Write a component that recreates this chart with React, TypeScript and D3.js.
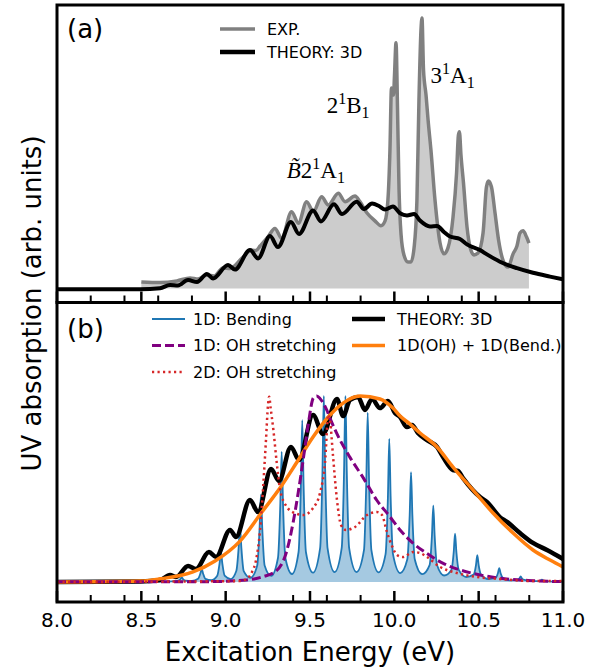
import React from "react";
import * as d3 from "d3";

type Pt = [number, number];

// ---- panel (a): experiment vs 3D theory (eV, normalised intensity)
const expSpectrum: Pt[] = [
  [8.5, 0.024], [8.611, 0.022], [8.711, 0.028], [8.789, 0.039], [8.836, 0.035],
  [8.889, 0.05], [8.931, 0.046], [8.984, 0.076], [9.026, 0.074], [9.097, 0.112],
  [9.154, 0.142], [9.18, 0.14], [9.204, 0.157], [9.25, 0.19], [9.292, 0.222],
  [9.332, 0.186], [9.391, 0.284], [9.431, 0.241], [9.48, 0.321], [9.52, 0.284],
  [9.569, 0.339], [9.608, 0.309], [9.668, 0.352], [9.708, 0.321], [9.767, 0.342],
  [9.796, 0.321], [9.838, 0.279], [9.885, 0.25], [9.921, 0.232], [9.945, 0.25],
  [9.962, 0.327], [9.974, 0.512], [9.983, 0.741], [9.995, 0.715], [10.001, 0.789],
  [10.01, 0.908], [10.019, 0.66], [10.028, 0.364], [10.04, 0.198], [10.057, 0.124],
  [10.081, 0.098], [10.099, 0.098], [10.117, 0.15], [10.134, 0.327], [10.146, 0.697],
  [10.158, 0.956], [10.164, 1.0], [10.173, 0.808], [10.188, 0.715], [10.2, 0.623],
  [10.217, 0.512], [10.241, 0.327], [10.271, 0.168], [10.294, 0.128], [10.318, 0.15],
  [10.348, 0.264], [10.369, 0.427], [10.38, 0.567], [10.386, 0.579], [10.395, 0.494],
  [10.41, 0.39], [10.431, 0.227], [10.449, 0.153], [10.472, 0.124], [10.496, 0.131],
  [10.526, 0.205], [10.546, 0.375], [10.558, 0.397], [10.576, 0.375], [10.597, 0.279],
  [10.618, 0.179], [10.644, 0.105], [10.674, 0.079], [10.704, 0.128], [10.727, 0.157],
  [10.745, 0.205], [10.763, 0.213], [10.784, 0.19], [10.798, 0.168],
];

const theory3dA: Pt[] = [
  [8.0, -0.003], [8.492, -0.003], [8.611, 0.001], [8.67, 0.013], [8.717, 0.011],
  [8.777, 0.031], [8.83, 0.024], [8.889, 0.054], [8.925, 0.037], [9.014, 0.087],
  [9.055, 0.07], [9.144, 0.142], [9.192, 0.111], [9.263, 0.194], [9.31, 0.153],
  [9.387, 0.246], [9.435, 0.201], [9.518, 0.288], [9.565, 0.248], [9.642, 0.311],
  [9.69, 0.275], [9.777, 0.321], [9.82, 0.294], [9.868, 0.314], [9.909, 0.305],
  [9.945, 0.292], [9.992, 0.303], [10.034, 0.278], [10.075, 0.27], [10.117, 0.275],
  [10.152, 0.251], [10.211, 0.229], [10.253, 0.231], [10.294, 0.209], [10.33, 0.192],
  [10.389, 0.183], [10.431, 0.163], [10.508, 0.142], [10.549, 0.126], [10.626, 0.099],
  [10.727, 0.075], [10.822, 0.058], [10.923, 0.044], [11.0, 0.034],
];

// ---- panel (b): reduced-dimensional models
const bending1D: Pt[] = [
  [8.0, 0.001], [8.62, 0.002], [8.68, 0.003],
  [8.717, 0.007], [8.731, 0.016], [8.739, 0.025], [8.747, 0.016], [8.761, 0.007], [8.8, 0.006],
  [8.836, 0.017], [8.85, 0.046], [8.858, 0.07], [8.866, 0.046], [8.88, 0.017], [8.915, 0.01],
  [8.95, 0.034], [8.964, 0.101], [8.972, 0.16], [8.98, 0.101], [8.994, 0.034], [9.03, 0.016],
  [9.063, 0.059], [9.077, 0.185], [9.085, 0.3], [9.093, 0.185], [9.107, 0.059], [9.147, 0.023],
  [9.187, 0.089], [9.201, 0.287], [9.209, 0.47], [9.217, 0.287], [9.231, 0.089], [9.27, 0.033],
  [9.31, 0.129], [9.324, 0.42], [9.332, 0.7], [9.34, 0.42], [9.354, 0.129], [9.393, 0.043],
  [9.432, 0.16], [9.446, 0.52], [9.454, 0.87], [9.462, 0.52], [9.476, 0.16], [9.518, 0.05],
  [9.56, 0.182], [9.574, 0.6], [9.582, 1.0], [9.59, 0.6], [9.604, 0.182], [9.646, 0.053],
  [9.688, 0.183], [9.702, 0.6], [9.71, 1.0], [9.718, 0.6], [9.732, 0.183], [9.776, 0.053],
  [9.82, 0.171], [9.834, 0.55], [9.842, 0.91], [9.85, 0.55], [9.864, 0.171], [9.906, 0.052],
  [9.948, 0.15], [9.962, 0.46], [9.97, 0.77], [9.978, 0.46], [9.992, 0.15], [10.035, 0.048],
  [10.077, 0.122], [10.091, 0.36], [10.099, 0.59], [10.107, 0.36], [10.121, 0.122], [10.165, 0.042],
  [10.209, 0.091], [10.223, 0.25], [10.231, 0.41], [10.239, 0.25], [10.253, 0.091], [10.295, 0.035],
  [10.338, 0.065], [10.352, 0.16], [10.36, 0.26], [10.368, 0.16], [10.382, 0.065], [10.426, 0.027],
  [10.47, 0.04], [10.484, 0.09], [10.492, 0.145], [10.5, 0.09], [10.514, 0.04], [10.557, 0.016],
  [10.6, 0.022], [10.614, 0.047], [10.622, 0.075], [10.63, 0.047], [10.644, 0.022], [10.685, 0.009],
  [10.727, 0.011], [10.741, 0.019], [10.749, 0.03], [10.757, 0.019], [10.771, 0.011], [10.81, 0.005],
  [10.861, 0.005], [10.875, 0.012], [10.889, 0.005], [10.94, 0.002], [11.0, 0.001],
];

const ohStretch1D: Pt[] = [
  [8.0, 0.002], [8.9, 0.002], [9.125, 0.011], [9.223, 0.029], [9.3, 0.06],
  [9.36, 0.16], [9.4, 0.32], [9.43, 0.48], [9.46, 0.66], [9.49, 0.85],
  [9.52, 0.99], [9.54, 1.0], [9.559, 0.987], [9.599, 0.925], [9.619, 0.88],
  [9.658, 0.8], [9.737, 0.67], [9.816, 0.56], [9.895, 0.441], [9.974, 0.351],
  [10.034, 0.28], [10.112, 0.208], [10.192, 0.154], [10.29, 0.1], [10.389, 0.065],
  [10.508, 0.038], [10.626, 0.02], [10.824, 0.007], [11.0, 0.002],
];

const ohStretch2D: Pt[] = [
  [8.0, 0.0], [9.085, 0.005], [9.132, 0.022], [9.156, 0.054], [9.18, 0.118],
  [9.204, 0.28], [9.221, 0.495], [9.239, 0.763], [9.251, 0.952], [9.258, 0.996],
  [9.266, 0.94], [9.283, 0.817], [9.303, 0.64], [9.322, 0.5], [9.362, 0.405],
  [9.411, 0.37], [9.46, 0.36], [9.52, 0.4], [9.559, 0.478], [9.589, 0.64],
  [9.609, 0.9], [9.62, 0.86], [9.636, 0.683], [9.66, 0.441], [9.684, 0.306],
  [9.713, 0.28], [9.767, 0.296], [9.838, 0.36], [9.897, 0.376], [9.927, 0.36],
  [9.956, 0.269], [9.986, 0.194], [10.016, 0.145], [10.051, 0.134], [10.111, 0.161],
  [10.152, 0.156], [10.194, 0.134], [10.271, 0.081], [10.372, 0.048], [10.49, 0.027],
  [10.626, 0.016], [10.822, 0.005], [11.0, 0.005],
];

const theory3dB: Pt[] = [
  [8.0, 0.0], [8.492, 0.003], [8.611, 0.011], [8.67, 0.038], [8.706, 0.027],
  [8.777, 0.086], [8.824, 0.07], [8.901, 0.161], [8.943, 0.134], [9.026, 0.28],
  [9.061, 0.242], [9.144, 0.441], [9.192, 0.376], [9.269, 0.608], [9.316, 0.543],
  [9.387, 0.726], [9.435, 0.656], [9.518, 0.898], [9.577, 0.796], [9.66, 0.984],
  [9.696, 0.892], [9.737, 0.978], [9.785, 0.995], [9.826, 0.925], [9.868, 0.984],
  [9.915, 0.935], [9.962, 0.973], [10.004, 0.909], [10.034, 0.887], [10.075, 0.833],
  [10.105, 0.844], [10.14, 0.801], [10.194, 0.763], [10.253, 0.726], [10.289, 0.672],
  [10.348, 0.602], [10.377, 0.597], [10.407, 0.559], [10.508, 0.457], [10.549, 0.43],
  [10.626, 0.349], [10.668, 0.323], [10.745, 0.263], [10.822, 0.21], [10.905, 0.172],
  [11.0, 0.124],
];

const ohPlusBend: Pt[] = [
  [8.0, 0.0], [8.492, 0.005], [8.611, 0.017], [8.806, 0.054], [8.937, 0.113],
  [9.085, 0.22], [9.215, 0.376], [9.322, 0.505], [9.423, 0.645], [9.518, 0.78],
  [9.619, 0.898], [9.696, 0.962], [9.797, 1.0], [9.915, 0.984], [9.992, 0.935],
  [10.034, 0.892], [10.093, 0.849], [10.152, 0.801], [10.253, 0.726], [10.348, 0.618],
  [10.466, 0.495], [10.585, 0.371], [10.704, 0.263], [10.822, 0.172], [10.923, 0.118],
  [11.0, 0.081],
];

const legendA = [
  { label: "EXP.", color: "#808080", width: 3.5, dash: null },
  { label: "THEORY: 3D", color: "#000000", width: 4.5, dash: null },
];
const legendB = [
  { label: "1D: Bending", color: "#1f77b4", width: 1.8, dash: null },
  { label: "1D: OH stretching", color: "#800080", width: 3, dash: "9,4" },
  { label: "2D: OH stretching", color: "#d62728", width: 2.5, dash: "2.2,3.3" },
  { label: "THEORY: 3D", color: "#000000", width: 4.5, dash: null },
  { label: "1D(OH) + 1D(Bend.)", color: "#ff7f0e", width: 3.5, dash: null },
];

const W = 599;
const H = 670;
const left = 57;
const right = 563;
const aTop = 5;
const mid = 302.5;
const bBot = 602;
const sans = "DejaVu Sans, sans-serif";
const serif = "Liberation Serif, DejaVu Serif, serif";

const App = () => {
  const x = d3.scaleLinear().domain([8, 11]).range([left, right]);
  const yA = d3.scaleLinear().domain([-0.0518, 1.048]).range([mid, aTop]);
  const yB = d3.scaleLinear().domain([-0.1075, 1.5027]).range([bBot, mid]);

  const lineA = d3.line<Pt>().x((d) => x(d[0])).y((d) => yA(d[1])).curve(d3.curveMonotoneX);
  const lineB = d3.line<Pt>().x((d) => x(d[0])).y((d) => yB(d[1])).curve(d3.curveMonotoneX);
  const areaA = d3.area<Pt>().x((d) => x(d[0])).y0(yA(0)).y1((d) => yA(d[1])).curve(d3.curveMonotoneX);
  const areaB = d3.area<Pt>().x((d) => x(d[0])).y0(yB(0)).y1((d) => yB(d[1])).curve(d3.curveMonotoneX);

  const major = x.ticks(6);
  const minor = x.ticks(12).filter((t) => !major.some((m) => Math.abs(m - t) < 1e-9));
  const fmt = d3.format(".1f");

  const ticks = (base: number) => (
    <g>
      {major.map((t) => (
        <line key={"M" + t} x1={x(t)} x2={x(t)} y1={base} y2={base - 11} stroke="#000" strokeWidth={2.5} />
      ))}
      {minor.map((t) => (
        <line key={"m" + t} x1={x(t)} x2={x(t)} y1={base} y2={base - 7} stroke="#000" strokeWidth={2} />
      ))}
    </g>
  );

  return (
    <svg width={W} height={H} style={{ position: "absolute", left: 0, top: 0, background: "#fff" }}>
      <defs>
        <clipPath id="clipA">
          <rect x={left} y={aTop} width={right - left} height={mid - aTop} />
        </clipPath>
        <clipPath id="clipB">
          <rect x={left} y={mid} width={right - left} height={bBot - mid} />
        </clipPath>
      </defs>

      {/* panel (a) */}
      <g clipPath="url(#clipA)">
        <path d={areaA(expSpectrum) || ""} fill="#cccccc" />
        <path d={lineA(expSpectrum) || ""} fill="none" stroke="#808080" strokeWidth={3.5} strokeLinejoin="round" />
        <path d={lineA(theory3dA) || ""} fill="none" stroke="#000" strokeWidth={4} strokeLinejoin="round" />
      </g>

      {/* panel (b) */}
      <g clipPath="url(#clipB)">
        <path d={areaB(bending1D) || ""} fill="#1f77b4" fillOpacity={0.4} />
        <path d={lineB(bending1D) || ""} fill="none" stroke="#1f77b4" strokeWidth={1.8} />
        <path d={lineB(theory3dB) || ""} fill="none" stroke="#000" strokeWidth={4.5} strokeLinejoin="round" />
        <path d={lineB(ohPlusBend) || ""} fill="none" stroke="#ff7f0e" strokeWidth={3.5} />
        <path d={lineB(ohStretch1D) || ""} fill="none" stroke="#800080" strokeWidth={3} strokeDasharray="9,4" />
        <path d={lineB(ohStretch2D) || ""} fill="none" stroke="#d62728" strokeWidth={2.5} strokeDasharray="2.2,3.3" />
      </g>

      {ticks(mid)}
      {ticks(bBot)}

      <rect x={left} y={aTop} width={right - left} height={mid - aTop} fill="none" stroke="#000" strokeWidth={3} />
      <rect x={left} y={mid} width={right - left} height={bBot - mid} fill="none" stroke="#000" strokeWidth={3} />

      {/* tick labels */}
      {major.map((t) => (
        <text key={"l" + t} x={x(t)} y={627} textAnchor="middle" fontFamily={sans} fontSize={20} fill="#000">
          {fmt(t)}
        </text>
      ))}

      <text x={(left + right) / 2} y={661} textAnchor="middle" fontFamily={sans} fontSize={26} fill="#000">
        Excitation Energy (eV)
      </text>
      <text
        transform={`translate(41,${(aTop + bBot) / 2}) rotate(-90)`}
        textAnchor="middle"
        fontFamily={sans}
        fontSize={26}
        fill="#000"
      >
        UV absorption (arb. units)
      </text>

      <text x={67} y={38} fontFamily={sans} fontSize={26}>(a)</text>
      <text x={67} y={338} fontFamily={sans} fontSize={26}>(b)</text>

      {/* legend (a) */}
      {legendA.map((d, i) => (
        <g key={d.label} transform={`translate(220,${29 + i * 23})`}>
          <line x1={0} x2={35} stroke={d.color} strokeWidth={d.width} />
          <text x={47} dy="0.36em" fontFamily={sans} fontSize={16}>{d.label}</text>
        </g>
      ))}

      {/* legend (b) */}
      {legendB.map((d, i) => {
        const col = i < 3 ? 0 : 1;
        const row = i < 3 ? i : i - 3;
        const lx = col === 0 ? 152 : 352;
        return (
          <g key={d.label} transform={`translate(${lx},${319 + row * 26.5})`}>
            <line x1={0} x2={33} stroke={d.color} strokeWidth={d.width} strokeDasharray={d.dash || undefined} />
            <text x={col === 0 ? 41 : 45} dy="0.36em" fontFamily={sans} fontSize={16}>{d.label}</text>
          </g>
        );
      })}

      {/* state labels */}
      <text x={x(9.362)} y={yA(0.408)} fontFamily={serif} fontSize={23}>
        <tspan fontStyle="italic">{"B\u0303"}</tspan>
        <tspan>2</tspan>
        <tspan dy={-9} fontSize={16}>1</tspan>
        <tspan dy={9}>A</tspan>
        <tspan dy={5} fontSize={16}>1</tspan>
      </text>
      <text x={x(9.599)} y={yA(0.649)} fontFamily={serif} fontSize={23}>
        <tspan>2</tspan>
        <tspan dy={-9} fontSize={16}>1</tspan>
        <tspan dy={9}>B</tspan>
        <tspan dy={5} fontSize={16}>1</tspan>
      </text>
      <text x={x(10.215)} y={yA(0.76)} fontFamily={serif} fontSize={23}>
        <tspan>3</tspan>
        <tspan dy={-9} fontSize={16}>1</tspan>
        <tspan dy={9}>A</tspan>
        <tspan dy={5} fontSize={16}>1</tspan>
      </text>
    </svg>
  );
};

export default App;
